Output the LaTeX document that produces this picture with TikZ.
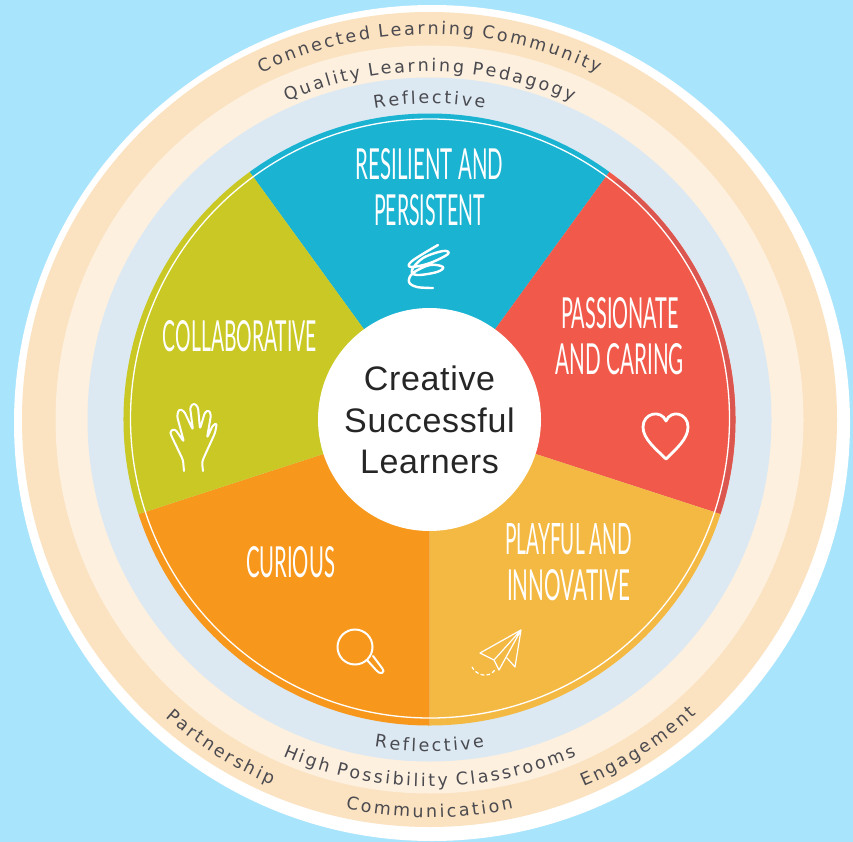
\documentclass[tikz,border=0pt]{standalone}
\usepackage{fontspec}
\usepackage{graphicx}
\usetikzlibrary{decorations.text,calc}
\setmainfont[LetterSpace=2]{Liberation Sans}
\newfontfamily\ringfont{DejaVu Sans}
\newfontfamily\wedgefont{Lato}
\definecolor{skybg}{HTML}{A9E4FD}
\definecolor{peach}{HTML}{FBE2C0}
\definecolor{cream}{HTML}{FDF0DF}
\definecolor{paleblue}{HTML}{DCE9F2}
\definecolor{wblue}{HTML}{1AB3D1}
\definecolor{wred}{HTML}{F15A4A}
\definecolor{wredrim}{HTML}{DC5650}
\definecolor{wyellow}{HTML}{F4B942}
\definecolor{worange}{HTML}{F7981D}
\definecolor{wgreen}{HTML}{C9C825}
\definecolor{ink}{HTML}{4A4A50}
\newcommand\ringf{\ringfont\fontsize{17.5}{19}\selectfont\color{ink}}
\newcommand\wt[2]{\resizebox{#1pt}{31pt}{\wedgefont #2}}
\def\k{\kern2.6pt}
\tikzset{
  ringtext/.style={decorate,decoration={text along path,text align=center,text={|\ringf|#1}}},
  wedgelabel/.style={text=white,align=center,inner sep=0pt,font=\fontsize{10}{46}\selectfont},
  icon/.style={draw=white,line width=2pt,line cap=round,line join=round}
}
\begin{document}
\begin{tikzpicture}[x=1pt,y=1pt]
\useasboundingbox (0,0) rectangle (853,-842);
\fill[skybg] (0,0) rectangle (853,-842);
\fill[white] (432,-423) circle[radius=418];
\coordinate (c) at (429.5,-419.5);
\fill[peach] (c) circle[radius=407.5];
\fill[cream] (c) circle[radius=374];
\fill[paleblue] (c) circle[radius=342];
\begin{scope}[shift={(c)}]
\fill[wblue] (0,0) -- (126:306) arc[start angle=126,end angle=54,radius=306] -- cycle;
\fill[wred] (0,0) -- (54:306) arc[start angle=54,end angle=-18,radius=306] -- cycle;
\draw[wredrim,line width=5.5pt] (52:303) arc[start angle=52,end angle=-18,radius=303];
\fill[wyellow] (0,0) -- (-18:306) arc[start angle=-18,end angle=-90,radius=306] -- cycle;
\fill[worange] (0,0) -- (-90:306) arc[start angle=-90,end angle=-162,radius=306] -- cycle;
\fill[wgreen] (0,0) -- (-162:306) arc[start angle=-162,end angle=-234,radius=306] -- cycle;
\end{scope}
\draw[white,line width=1.3pt] (430,-418.5) circle[radius=299.5];
\fill[white] (c) circle[radius=111.5];
% ring texts
\begin{scope}[shift={(c)}]
\path[ringtext={{C\k}{o\k}{n\k}{n\k}{e\k}{c\k}{t\k}{e\k}{d\k} {L\k}{e\k}{a\k}{r\k}{n\k}{i\k}{n\k}{g\k} {C\k}{o\k}{m\k}{m\k}{u\k}{n\k}{i\k}{t\k}y}] (125:385) arc[start angle=125,end angle=55,radius=385];
\path[ringtext={{Q\k}{u\k}{a\k}{l\k}{i\k}{t\k}{y\k} {L\k}{e\k}{a\k}{r\k}{n\k}{i\k}{n\k}{g\k} {P\k}{e\k}{d\k}{a\k}{g\k}{o\k}{g\k}y}] (125:348) arc[start angle=125,end angle=55,radius=348];
\path[ringtext={{R\k}{e\k}{f\k}{l\k}{e\k}{c\k}{t\k}{i\k}{v\k}e}] (115:316) arc[start angle=115,end angle=65,radius=316];
\path[ringtext={{R\k}{e\k}{f\k}{l\k}{e\k}{c\k}{t\k}{i\k}{v\k}e}] (245:332) arc[start angle=245,end angle=295,radius=332];
\path[ringtext={{H\k}{i\k}{g\k}{h\k} {P\k}{o\k}{s\k}{s\k}{i\k}{b\k}{i\k}{l\k}{i\k}{t\k}{y\k} {C\k}{l\k}{a\k}{s\k}{s\k}{r\k}{o\k}{o\k}{m\k}s}] (235:367) arc[start angle=235,end angle=305,radius=367];
\path[ringtext={{C\k}{o\k}{m\k}{m\k}{u\k}{n\k}{i\k}{c\k}{a\k}{t\k}{i\k}{o\k}n}] (250:398) arc[start angle=250,end angle=290,radius=398];
\path[ringtext={{P\k}{a\k}{r\k}{t\k}{n\k}{e\k}{r\k}{s\k}{h\k}{i\k}p}] (220:398) arc[start angle=220,end angle=255,radius=398];
\path[ringtext={{E\k}{n\k}{g\k}{a\k}{g\k}{e\k}{m\k}{e\k}{n\k}t}] (285:398) arc[start angle=285,end angle=320,radius=398];
\end{scope}
% wedge labels
\node[wedgelabel] (resilient) at (429.5,-187) {\wt{147}{RESILIENT AND}\\\wt{111}{PERSISTENT}};
\node[wedgelabel] (passionate) at (620,-336) {\wt{118}{PASSIONATE}\\\wt{128}{AND CARING}};
\node[wedgelabel] (playful) at (568.5,-562) {\wt{127}{PLAYFUL AND}\\\wt{123}{INNOVATIVE}};
\node[wedgelabel] (curious) at (290.5,-562) {\wt{89}{CURIOUS}};
\node[wedgelabel] (collab) at (240,-336) {\wt{154}{COLLABORATIVE}};
% centre
\node[align=center,inner sep=0pt,text=black!85,font=\fontsize{34}{41.5}\selectfont] (centre) at (429.5,-420) {Creative\\Successful\\Learners};
% scribble icon
\draw[icon,line width=2.4pt] plot[smooth,tension=.6] coordinates {(438,-245) (412,-261) (411,-267) (430,-263) (448,-254) (443,-251) (423,-258) (412,-270) (417,-275) (437,-272) (443,-267) (430,-265) (413,-273) (409,-282) (417,-287) (433,-288)};
% hand icon
\draw[icon,rounded corners=2.5pt] (184,-471) -- (183,-460) -- (171,-435) -- (170,-431) -- (175,-429) -- (184,-442) -- (177,-416) -- (179,-409) -- (184,-411) -- (193,-430) -- (190,-407) -- (194,-403) -- (198,-407) -- (200,-429) -- (205,-412) -- (209,-410) -- (211,-415) -- (207,-438) -- (213,-425) -- (217,-423) -- (215,-433) -- (205,-455) -- (202,-462) -- (203,-471);
% heart icon
\draw[icon,line width=2.8pt] (666,-459) .. controls (656,-449) and (643,-439) .. (643,-427) .. controls (643,-413) and (661,-409) .. (666,-421) .. controls (671,-409) and (688,-413) .. (688,-427) .. controls (688,-439) and (676,-449) .. (666,-459) -- cycle;
% magnifier icon
\draw[icon] (355,-647) circle[radius=17.5];
\draw[icon] (367,-660) -- (376,-670) .. controls (378,-672) and (380,-674) .. (382,-673) .. controls (384,-672) and (384,-670) .. (382,-668) -- (373,-656);
% plane icon
\draw[icon,line width=1.2pt] (521,-630) -- (480,-653) -- (494,-660) -- cycle (521,-630) -- (499,-670) -- (494,-660) (521,-630) -- (515,-667) -- (507,-658);
\draw[icon,line width=1.2pt,dash pattern=on 3pt off 3pt] (472,-667) .. controls (476,-675) and (488,-679) .. (495,-670);
\end{tikzpicture}
\end{document}
